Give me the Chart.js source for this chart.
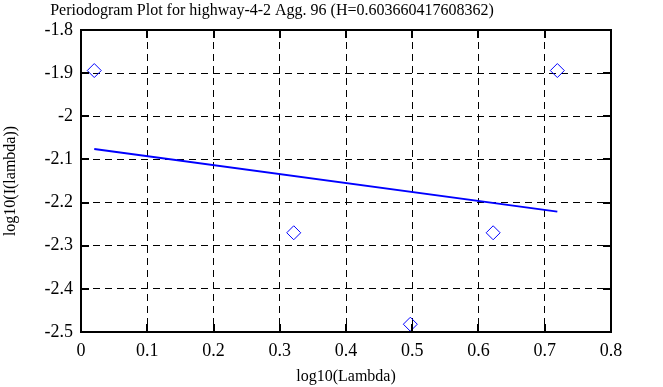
<!DOCTYPE html>
<html>
<head>
<meta charset="utf-8">
<script src="https://cdn.jsdelivr.net/npm/chart.js@4"></script>
<style>
  html, body { margin: 0; padding: 0; background: #fff; }
  #wrap { width: 663px; height: 387px; }
</style>
</head>
<body>
<div id="wrap"><canvas id="periodo" width="663" height="387"></canvas></div>
<script>
// valeurs
const logLambda = [0.0200, 0.3211, 0.4971, 0.6221, 0.7190];
const logI = [-1.894, -2.270, -2.482, -2.270, -1.894];
const fitX = [0.0200, 0.7190];
const fitY = [-2.076, -2.221];
const xTicks = [0, 0.1, 0.2, 0.3, 0.4, 0.5, 0.6, 0.7, 0.8];
const yTicks = [-1.8, -1.9, -2, -2.1, -2.2, -2.3, -2.4, -2.5];
const titre = 'Periodogram Plot for highway-4-2 Agg. 96 (H=0.603660417608362)';

const police = 'Liberation Serif';

// titre + petits traits de graduation vers l'intérieur
const decor = {
    id: 'decor',
    afterDraw(chart) {
        const ctx = chart.ctx;
        const a = chart.chartArea;
        const sx = chart.scales.x, sy = chart.scales.y;
        ctx.save();
        ctx.strokeStyle = '#000';
        ctx.lineWidth = 2;
        ctx.setLineDash([]);
        ctx.beginPath();
        xTicks.forEach(v => {
            const px = Math.round(sx.getPixelForValue(v));
            ctx.moveTo(px, a.bottom); ctx.lineTo(px, a.bottom - 8);
            ctx.moveTo(px, a.top); ctx.lineTo(px, a.top + 8);
        });
        yTicks.forEach(v => {
            const py = Math.round(sy.getPixelForValue(v));
            ctx.moveTo(a.left, py); ctx.lineTo(a.left + 8, py);
            ctx.moveTo(a.right, py); ctx.lineTo(a.right - 8, py);
        });
        ctx.stroke();
        ctx.strokeRect(a.left, a.top, a.right - a.left, a.bottom - a.top);

        ctx.fillStyle = '#000';
        ctx.font = '16px "' + police + '"';
        ctx.textAlign = 'center';
        ctx.textBaseline = 'middle';
        ctx.fillText(titre, 272, 11);
        ctx.restore();
    }
};

function axe(min, max, ticks, titreAxe, fit) {
    return {
        type: 'linear',
        min: min,
        max: max,
        afterBuildTicks: s => { s.ticks = ticks.map(v => ({ value: v })); },
        afterFit: fit,
        border: { display: false, dash: [7, 5] },
        grid: { color: '#000', lineWidth: 1, drawTicks: false },
        ticks: {
            color: '#000',
            padding: 8,
            font: { family: police, size: 18 },
            callback: v => String(v)
        },
        title: {
            display: true,
            text: titreAxe,
            color: '#000',
            padding: 1,
            font: { family: police, size: 16 }
        }
    };
}

function dessiner() {
    const ctx = document.getElementById('periodo').getContext('2d');
    new Chart(ctx, {
        type: 'scatter',
        data: {
            datasets: [{
                label: 'periodogram',
                data: logLambda.map((x, i) => ({ x: x, y: logI[i] })),
                pointStyle: 'rectRot',
                pointRadius: 7,
                pointHoverRadius: 7,
                borderColor: '#0000ff',
                backgroundColor: 'rgba(0,0,0,0)',
                borderWidth: 1
            }, {
                label: 'fit',
                type: 'line',
                data: fitX.map((x, i) => ({ x: x, y: fitY[i] })),
                borderColor: '#0000ff',
                borderWidth: 2,
                pointRadius: 0,
                fill: false
            }]
        },
        options: {
            responsive: false,
            animation: false,
            events: [],
            layout: { padding: { left: 0, top: 30, right: 52, bottom: 0 } },
            plugins: {
                legend: { display: false },
                tooltip: { enabled: false }
            },
            scales: {
                x: axe(0, 0.8, xTicks, 'log10(Lambda)', s => { s.height = 55; }),
                y: axe(-2.5, -1.8, yTicks, 'log10(I(lambda))', s => { s.width = 81; })
            }
        },
        plugins: [decor]
    });
}

window.onload = dessiner;
</script>
</body>
</html>
